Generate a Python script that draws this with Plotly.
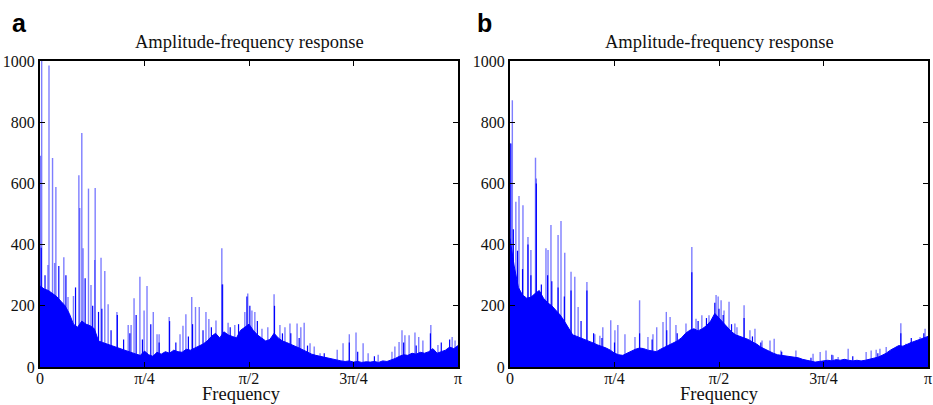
import plotly.graph_objects as go

# Frequency bins (fraction of pi) for the dense spectrum floor
bin_freq = [i / 100 for i in range(101)]

# Panel a: spectrum floor
floor_a = [265, 255, 250, 240, 230, 215, 200, 175, 140, 130,
           150, 140, 135, 125, 85, 80, 75, 70, 66, 60,
           55, 50, 45, 42, 38, 52, 40, 35, 48, 42,
           50, 45, 55, 50, 48, 58, 55, 62, 68, 75,
           85, 100, 110, 95, 115, 105, 100, 95, 120, 130,
           140, 120, 105, 95, 85, 90, 110, 95, 85, 80,
           75, 68, 62, 55, 48, 42, 38, 35, 30, 28,
           25, 22, 20, 18, 20, 16, 18, 15, 17, 16,
           18, 15, 20, 18, 22, 28, 35, 40, 38, 45,
           42, 48, 45, 50, 60, 45, 50, 55, 65, 60, 70]

# Panel a: tall spectral peaks (frequency as fraction of pi, amplitude)
peak_freq_a = [0.001, 0.004, 0.019, 0.0215, 0.030, 0.035, 0.038, 0.057, 0.067, 0.080,
               0.093, 0.095, 0.100, 0.103, 0.116, 0.122, 0.132, 0.131, 0.146, 0.155,
               0.163, 0.184, 0.211, 0.218, 0.225, 0.239, 0.249, 0.256, 0.271, 0.280,
               0.285, 0.309, 0.335, 0.342, 0.349, 0.363, 0.372, 0.381, 0.397, 0.404,
               0.421, 0.435, 0.437, 0.450, 0.466, 0.490, 0.497, 0.507, 0.514, 0.531,
               0.545, 0.560, 0.574, 0.586, 0.598, 0.615, 0.624, 0.632, 0.646, 0.656,
               0.670, 0.711, 0.725, 0.740, 0.756, 0.773, 0.785, 0.809, 0.842, 0.849,
               0.859, 0.866, 0.873, 0.883, 0.897, 0.906, 0.916, 0.935, 0.952, 0.986, 0.993]
peak_amp_a = [690, 1000, 333, 985, 683, 340, 588, 359, 229, 232,
              627, 520, 765, 388, 583, 268, 585, 350, 357, 314,
              205, 180, 137, 137, 225, 295, 185, 265, 180, 107,
              107, 163, 107, 135, 172, 229, 196, 196, 180, 157,
              152, 388, 270, 145, 137, 180, 240, 185, 180, 125,
              130, 238, 137, 130, 142, 142, 130, 145, 78, 67,
              45, 56, 78, 107, 113, 78, 45, 40, 50, 67,
              82, 120, 104, 104, 113, 98, 87, 137, 72, 98, 87]

# Panel a: short dark peaks riding on the floor
minor_freq_a = [0.003, 0.012, 0.045, 0.062, 0.085, 0.108, 0.126, 0.140, 0.148, 0.170,
                0.185, 0.200, 0.215, 0.230, 0.245, 0.265, 0.285, 0.310, 0.325, 0.355,
                0.365, 0.390, 0.410, 0.436, 0.455, 0.475, 0.495, 0.502, 0.520, 0.561,
                0.580, 0.600, 0.620, 0.640, 0.680, 0.740, 0.760, 0.800, 0.870, 0.900,
                0.934, 0.960, 0.980]
minor_amp_a = [390, 300, 330, 300, 260, 290, 200, 180, 190, 120,
               170, 90, 110, 170, 90, 140, 80, 150, 80, 100,
               140, 120, 130, 270, 130, 140, 230, 200, 150, 200,
               110, 110, 95, 70, 45, 80, 50, 35, 80, 70,
               110, 80, 90]

# Panel b: spectrum floor
floor_b = [420, 330, 260, 235, 225, 228, 240, 250, 225, 210,
           200, 185, 170, 150, 125, 105, 100, 95, 90, 85,
           78, 72, 68, 62, 55, 45, 40, 38, 45, 52,
           58, 62, 60, 55, 52, 50, 58, 65, 70, 78,
           85, 95, 110, 120, 125, 118, 125, 135, 150, 175,
           160, 145, 130, 115, 105, 100, 95, 90, 82, 75,
           65, 58, 50, 45, 40, 38, 36, 35, 33, 30,
           25, 22, 18, 16, 18, 20, 22, 20, 24, 22,
           25, 22, 20, 22, 20, 22, 25, 28, 32, 38,
           45, 55, 62, 70, 68, 75, 80, 85, 90, 95, 100]

# Panel b: tall spectral peaks
peak_freq_b = [0.0, 0.0056, 0.014, 0.0215, 0.031, 0.043, 0.050, 0.061, 0.063, 0.072,
               0.086, 0.091, 0.098, 0.115, 0.122, 0.131, 0.146, 0.155, 0.163, 0.184,
               0.203, 0.215, 0.222, 0.241, 0.251, 0.258, 0.275, 0.299, 0.310, 0.330,
               0.342, 0.351, 0.366, 0.374, 0.383, 0.397, 0.421, 0.435, 0.445, 0.459,
               0.476, 0.493, 0.498, 0.505, 0.512, 0.524, 0.538, 0.543, 0.560, 0.574,
               0.586, 0.603, 0.622, 0.632, 0.648, 0.684, 0.725, 0.742, 0.756, 0.773,
               0.785, 0.809, 0.852, 0.864, 0.876, 0.885, 0.900, 0.916, 0.935, 0.947,
               0.959, 0.971, 0.981, 0.993]
peak_amp_b = [731, 872, 540, 559, 529, 425, 382, 684, 616, 245,
              388, 382, 464, 431, 477, 373, 311, 295, 196, 278,
              107, 102, 130, 153, 120, 137, 107, 98, 218, 98,
              107, 130, 147, 180, 163, 137, 142, 392, 158, 169,
              169, 235, 230, 218, 185, 213, 142, 130, 202, 120,
              125, 87, 87, 92, 54, 54, 43, 49, 54, 38,
              33, 60, 49, 54, 56, 60, 65, 60, 143, 76,
              82, 87, 98, 125]

# Panel b: short dark peaks riding on the floor
minor_freq_b = [0.002, 0.008, 0.018, 0.030, 0.043, 0.050, 0.063, 0.075, 0.090, 0.100,
                0.115, 0.130, 0.146, 0.170, 0.184, 0.200, 0.220, 0.250, 0.310, 0.340,
                0.375, 0.400, 0.435, 0.450, 0.470, 0.490, 0.500, 0.510, 0.530, 0.560,
                0.580, 0.600, 0.650, 0.720, 0.770, 0.820, 0.880, 0.935, 0.960, 0.990]
minor_amp_b = [730, 450, 380, 320, 400, 300, 600, 270, 300, 280,
               260, 230, 250, 150, 250, 110, 95, 80, 110, 90,
               120, 110, 310, 150, 160, 210, 190, 170, 140, 160,
               100, 80, 50, 30, 40, 35, 45, 110, 95, 110]

x_tick_vals = [0, 0.25, 0.5, 0.75, 1]
x_tick_text = ["0", "π/4", "π/2", "3π/4", "π"]
y_tick_vals = [0, 200, 400, 600, 800, 1000]

BLUE = "#0000ff"
SPIKE = "rgba(40,40,255,0.6)"


def spike_xy(freqs, amps):
    xs, ys = [], []
    for f, a in zip(freqs, amps):
        xs += [f, f, None]
        ys += [0, a, None]
    return xs, ys


fig = go.Figure()

panels = [(floor_a, peak_freq_a, peak_amp_a, minor_freq_a, minor_amp_a),
          (floor_b, peak_freq_b, peak_amp_b, minor_freq_b, minor_amp_b)]
for idx, (floor, pf, pa, mf, ma) in enumerate(panels):
    xa = "x" if idx == 0 else "x2"
    ya = "y" if idx == 0 else "y2"
    sx, sy = spike_xy(pf, pa)
    fig.add_trace(go.Scatter(x=sx, y=sy, mode="lines",
                             line=dict(color=SPIKE, width=1.4),
                             xaxis=xa, yaxis=ya, showlegend=False, hoverinfo="skip"))
    fig.add_trace(go.Scatter(x=bin_freq, y=floor, mode="lines",
                             line=dict(color=BLUE, width=1), fill="tozeroy",
                             fillcolor=BLUE, xaxis=xa, yaxis=ya, showlegend=False))
    mx, my = spike_xy(mf, ma)
    fig.add_trace(go.Scatter(x=mx, y=my, mode="lines",
                             line=dict(color=BLUE, width=1.2),
                             xaxis=xa, yaxis=ya, showlegend=False, hoverinfo="skip"))

W, H = 933, 405


def px_x(p):
    return p / W


def px_y(p):
    return 1 - p / H


dom_a = [px_x(40), px_x(458)]
dom_b = [px_x(510), px_x(928)]
dom_y = [px_y(367), px_y(61)]

tickfont = dict(family="Liberation Serif, Times New Roman, serif", size=16, color="#111")
common_x = dict(range=[0, 1], tickmode="array", tickvals=x_tick_vals, ticktext=x_tick_text,
                ticks="inside", ticklen=5, tickwidth=1.3, tickcolor="black",
                showline=True, linecolor="black", linewidth=2, mirror="ticks",
                showgrid=False, zeroline=False, tickfont=tickfont, automargin=False,
                ticklabelstandoff=-4)
common_y = dict(range=[0, 1000], tickmode="array", tickvals=y_tick_vals,
                ticks="inside", ticklen=5, tickwidth=1.3, tickcolor="black",
                showline=True, linecolor="black", linewidth=2, mirror="ticks",
                showgrid=False, zeroline=False, tickfont=tickfont, automargin=False)

fig.update_layout(
    width=W, height=H, autosize=False,
    margin=dict(l=0, r=0, t=0, b=0, autoexpand=False),
    paper_bgcolor="white", plot_bgcolor="white",
    xaxis=dict(domain=dom_a, anchor="y", **common_x),
    yaxis=dict(domain=dom_y, anchor="x", **common_y),
    xaxis2=dict(domain=dom_b, anchor="y2", **common_x),
    yaxis2=dict(domain=dom_y, anchor="x2", **common_y),
)

serif = "Liberation Serif, Times New Roman, serif"
for cx, fx, letter, lx in [(249, 241, "a", 10), (719, 719, "b", 475)]:
    fig.add_annotation(x=px_x(cx), y=px_y(42), xref="paper", yref="paper", showarrow=False,
                       xanchor="center", yanchor="middle",
                       text="Amplitude-frequency response",
                       font=dict(family=serif, size=18.5, color="#111"))
    fig.add_annotation(x=px_x(fx), y=px_y(394), xref="paper", yref="paper", showarrow=False,
                       xanchor="center", yanchor="middle",
                       text="Frequency", font=dict(family=serif, size=18.5, color="#111"))
    fig.add_annotation(x=px_x(lx), y=px_y(23), xref="paper", yref="paper", showarrow=False,
                       xanchor="left", yanchor="middle", text="<b>" + letter + "</b>",
                       font=dict(family="Liberation Sans, Arial, sans-serif", size=25,
                                 color="black"))

# Remove the default 8px page margin so the figure sits at the window's corner
fig.write_html("out.html", config={"displayModeBar": False},
               post_script="document.body.style.margin='0';")
